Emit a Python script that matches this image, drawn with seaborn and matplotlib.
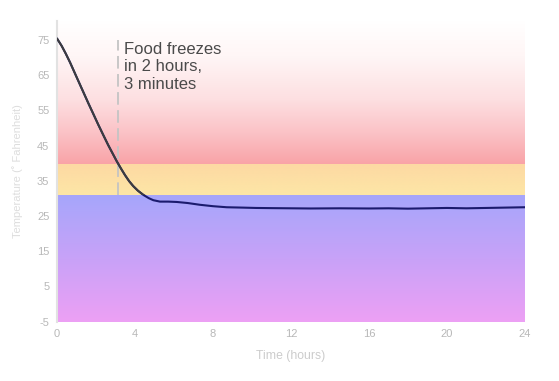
import numpy as np
import matplotlib
matplotlib.use("Agg")
import matplotlib.pyplot as plt
from matplotlib.colors import LinearSegmentedColormap
from matplotlib.patches import Rectangle
import pandas as pd
import seaborn as sns

# temperature of the food over time
hours = [0, 0.24, 0.45, 0.67, 0.88, 1.09, 1.35, 1.61, 1.87, 2.12, 2.4, 2.63,
         2.85, 3.06, 3.28, 3.49, 3.7, 3.91, 4.15, 4.43, 4.7, 4.94, 5.28, 5.7,
         6.14, 6.7, 7.33, 8.0, 8.7, 9.5, 10.2, 11, 12, 13, 14.5, 16, 17, 18,
         19, 20, 21, 22, 23, 24]
temps = [75.4, 73.3, 71.1, 68.6, 66.0, 63.4, 60.2, 57.0, 53.9, 50.9, 47.7, 45.1,
         42.8, 40.6, 38.5, 36.6, 34.9, 33.5, 32.2, 31.0, 30.1, 29.5, 29.1, 29.1,
         29.0, 28.7, 28.2, 27.8, 27.5, 27.4, 27.3, 27.25, 27.2, 27.15, 27.2,
         27.15, 27.2, 27.1, 27.2, 27.3, 27.2, 27.3, 27.4, 27.5]

freeze_hour = 3.13
freeze_label = "Food freezes\nin 2 hours,\n3 minutes"
x_ticks = [0, 4, 8, 12, 16, 20, 24]
y_ticks = [-5, 5, 15, 25, 35, 45, 55, 65, 75]
# temperature zones: frozen / freezing / warm
zone_frozen = (-5, 31)
zone_freezing = (31, 39.6)
zone_warm = (39.6, 80.5)

sns.set_style("white")
plt.rcParams["font.family"] = ["Liberation Sans", "DejaVu Sans"]
plt.rcParams["axes.unicode_minus"] = False

df = pd.DataFrame({"hours": hours, "temp": temps})

fig = plt.figure(figsize=(5.59, 3.81), dpi=100)
ax = fig.add_axes([0.102, 0.1556, 0.837, 0.7904])


def band(lo, hi, stops):
    cmap = LinearSegmentedColormap.from_list("b", stops)
    g = np.linspace(0, 1, 256)
    ax.imshow(g[:, None], cmap=cmap, aspect="auto", origin="lower",
              extent=[0, 24, lo, hi], zorder=0, interpolation="bilinear")


band(*zone_warm, [(0, "#f9a2a6"), (0.22, "#fbc2c6"), (0.45, "#fddfe1"),
                  (0.75, "#fff6f6"), (1, "#ffffff")])
band(*zone_freezing, ["#fde6a6", "#fdd9a3"])
band(*zone_frozen, ["#eda0f4", "#c8a2f8", "#a6a6fb"])

# dashed marker at the freezing time
ax.plot([freeze_hour, freeze_hour], [31, 75], color="#c4c4c4",
        lw=1.3, dashes=(7, 3), zorder=2)
ax.text(freeze_hour + 0.3, 74.4, freeze_label, fontsize=12,
        color="#4a4a4a", va="top", ha="left", linespacing=1.2, zorder=3)

# curve: navy over the blue zone, dark grey above it
sns.lineplot(data=df, x="hours", y="temp", color="#1b1b6e", lw=1.5,
             ax=ax, zorder=4)
sns.lineplot(data=df, x="hours", y="temp", color="#3d3d3d", lw=1.4,
             ax=ax, zorder=5)
top_line = ax.lines[-1]
top_line.set_clip_path(Rectangle((0, 31), 24, 50, transform=ax.transData))

ax.set_xlim(0, 24)
ax.set_ylim(-5, 80.5)
ax.set_xticks(x_ticks)
ax.set_yticks(y_ticks)
ax.tick_params(length=0, labelsize=8, colors="#b8b8b8")
ax.tick_params(axis="y", pad=5.5)
ax.tick_params(axis="x", pad=5)
ax.set_xlabel("Time (hours)", fontsize=8.8, color="#cccccc", labelpad=8)
ax.set_ylabel("Temperature (˚ Fahrenheit)", fontsize=8, color="#dddddd",
              labelpad=10)
for side in ["top", "right", "bottom"]:
    ax.spines[side].set_visible(False)
ax.spines["left"].set_color("#e2e2e2")
ax.spines["left"].set_linewidth(1.5)

fig.savefig("out.png", dpi=100)
